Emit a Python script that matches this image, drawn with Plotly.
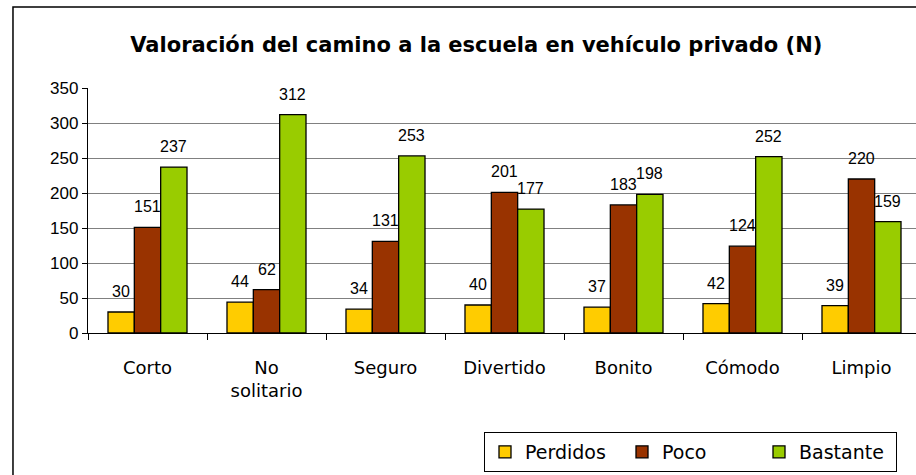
import plotly.graph_objects as go

categories = ["Corto", "No<br>solitario", "Seguro", "Divertido", "Bonito", "Cómodo", "Limpio"]
perdidos = [30, 44, 34, 40, 37, 42, 39]
poco = [151, 62, 131, 201, 183, 124, 220]
bastante = [237, 312, 253, 177, 198, 252, 159]
series_names = ["Perdidos", "Poco", "Bastante"]
y_ticks = [0, 50, 100, 150, 200, 250, 300, 350]

colors = ["#FFCC00", "#993300", "#99CC00"]
series = [perdidos, poco, bastante]
comic = "DejaVu Sans"
arial = "Liberation Sans, Arial"

fig = go.Figure()
for name, vals, col in zip(series_names, series, colors):
    fig.add_trace(go.Bar(
        name=name, x=categories, y=vals,
        marker=dict(color=col, line=dict(color="#000000", width=1.3)),
    ))

# value labels
shifts = [-26.2, 0, 26.2]
for vals, dx in zip(series, shifts):
    for c, v in zip(categories, vals):
        fig.add_annotation(x=c, y=v, xref="x", yref="y", text=str(v),
                           showarrow=False, xshift=dx, yshift=10, yanchor="bottom",
                           font=dict(family=arial, size=16, color="#000000"))

# outer chart border
fig.add_shape(type="rect", xref="paper", yref="paper",
              x0=-0.0906, x1=1.02, y0=-0.7, y1=1.3306,
              line=dict(color="#000000", width=1.5), fillcolor="rgba(0,0,0,0)", layer="below")

fig.update_layout(
    width=916, height=475,
    margin=dict(l=88, r=0, t=88, b=142),
    paper_bgcolor="#FFFFFF", plot_bgcolor="#FFFFFF",
    barmode="group", bargap=0.336, bargroupgap=0,
    title=dict(text="<b>Valoración del camino a la escuela en vehículo privado (N)</b>",
               x=0.52, xref="container", xanchor="center",
               y=1 - 45 / 475, yref="container", yanchor="middle",
               font=dict(family=comic, size=21, color="#000000")),
    legend=dict(orientation="h", x=(484 - 88) / 828, y=-0.404, xanchor="left", yanchor="top",
                bgcolor="#FFFFFF", bordercolor="#000000", borderwidth=1,
                font=dict(family=comic, size=19, color="#000000"),
                itemwidth=30, traceorder="normal",
                entrywidth=92, entrywidthmode="pixels"),
    showlegend=True,
)
fig.update_xaxes(
    range=[-0.5, 6.458], type="category",
    showline=True, linecolor="#000000", linewidth=1.3,
    ticks="outside", tickson="boundaries", ticklen=6, tickcolor="#000000",
    tickfont=dict(family=comic, size=18, color="#000000"),
    ticklabelstandoff=18, showgrid=False,
)
fig.update_yaxes(
    range=[0, 350], tickvals=y_ticks, ticktext=[str(t) for t in y_ticks],
    showline=True, linecolor="#000000", linewidth=1.3,
    ticks="outside", ticklen=5, tickcolor="#000000",
    tickfont=dict(family=arial, size=17, color="#000000"),
    showgrid=True, gridcolor="#808080", gridwidth=1.3, zeroline=False,
)

fig.write_html("out.html", config={"displayModeBar": False},
               post_script="document.body.style.margin='0';document.body.style.overflow='hidden';")
